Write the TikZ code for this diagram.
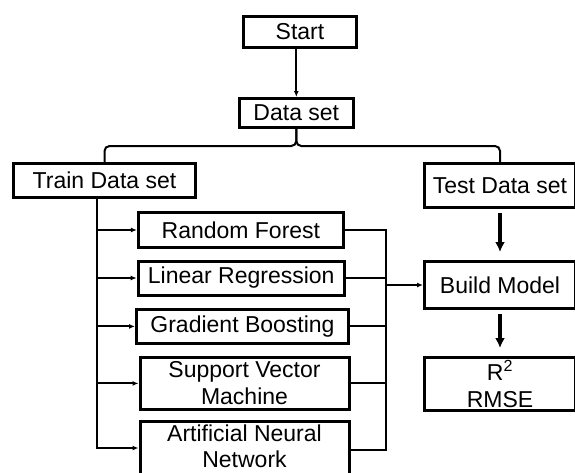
\documentclass[tikz,border=0pt]{standalone}
\usepackage{fontspec}
\setmainfont{Liberation Sans}
\usetikzlibrary{arrows.meta}

\begin{document}
\begin{tikzpicture}[
  x=1pt, y=-1pt,
  every node/.style={draw, line width=3pt, align=center, inner sep=0pt, font=\fontsize{23}{27}\selectfont},
  link/.style={line width=2pt},
  arrow/.style={link, -{Latex[length=6pt,width=5pt]}},
  bigArrow/.style={line width=3.3pt, -{Latex[length=10pt,width=10pt]}, shorten <=4pt, shorten >=8pt}
]
\useasboundingbox (0,0) rectangle (575,472);
\clip (0,0) rectangle (575,472);

\node[minimum width=113pt, minimum height=31pt] (start) at (300,32) {Start};
\node[minimum width=114pt, minimum height=29pt] (dataSet) at (296.3,113) {Data set};
\node[minimum width=182pt, minimum height=34pt] (trainSet) at (104.5,180.4) {Train Data set};
\node[minimum width=151pt, minimum height=44pt] (testSet) at (500,185.4) {Test Data set};
\node[minimum width=151pt, minimum height=47pt] (buildModel) at (500,285) {Build Model};
\node[minimum width=151pt, minimum height=53pt] (metrics) at (500,384) {R\textsuperscript{2}\\RMSE};

% models
\node[minimum width=205pt, minimum height=35pt] (randForest) at (240.9,230) {Random Forest};
\node[minimum width=206pt, minimum height=34pt] (linReg) at (241.2,278) {Linear Regression};
\node[minimum width=212pt, minimum height=34pt] (gradBoost) at (242.5,326.4) {Gradient Boosting};
\node[minimum width=209pt, minimum height=52pt] (svm) at (244.5,383.4) {Support Vector\\Machine};
\node[minimum width=209pt, minimum height=64pt, text depth=14pt, font=\fontsize{23}{25.5}\selectfont] (ann) at (244.5,453) {Artificial Neural\\Network};

\coordinate (braceY) at (0,146);
\coordinate (braceMid) at (dataSet.south |- braceY);
\coordinate (trunkX) at (97,0);
\coordinate (joinX) at (386,0);
\coordinate (annIn) at ([yshift=5pt]ann.west);
\coordinate (annOut) at ([yshift=3pt]ann.east);

\draw[arrow] (start.south -| dataSet.north) -- (dataSet.north);
\draw[link, rounded corners=5pt] (trainSet.north) |- (braceMid) -- (dataSet.south);
\draw[link, rounded corners=5pt] (testSet.north) |- (braceMid) -- (dataSet.south);

% train set to models
\draw[arrow] (trainSet.south -| trunkX) |- (annIn);
\foreach \m in {randForest, linReg, gradBoost, svm}
  \draw[arrow] (trunkX |- \m.west) -- (\m.west);

% models to build model
\draw[link] (randForest.east) -| (joinX |- annOut) -- (annOut);
\foreach \m in {linReg, gradBoost, svm}
  \draw[link] (\m.east) -- (joinX |- \m.east);
\draw[arrow] (joinX |- buildModel.west) -- (buildModel.west);

\draw[bigArrow] (testSet) -- (buildModel);
\draw[bigArrow] (buildModel) -- (metrics);
\end{tikzpicture}
\end{document}
